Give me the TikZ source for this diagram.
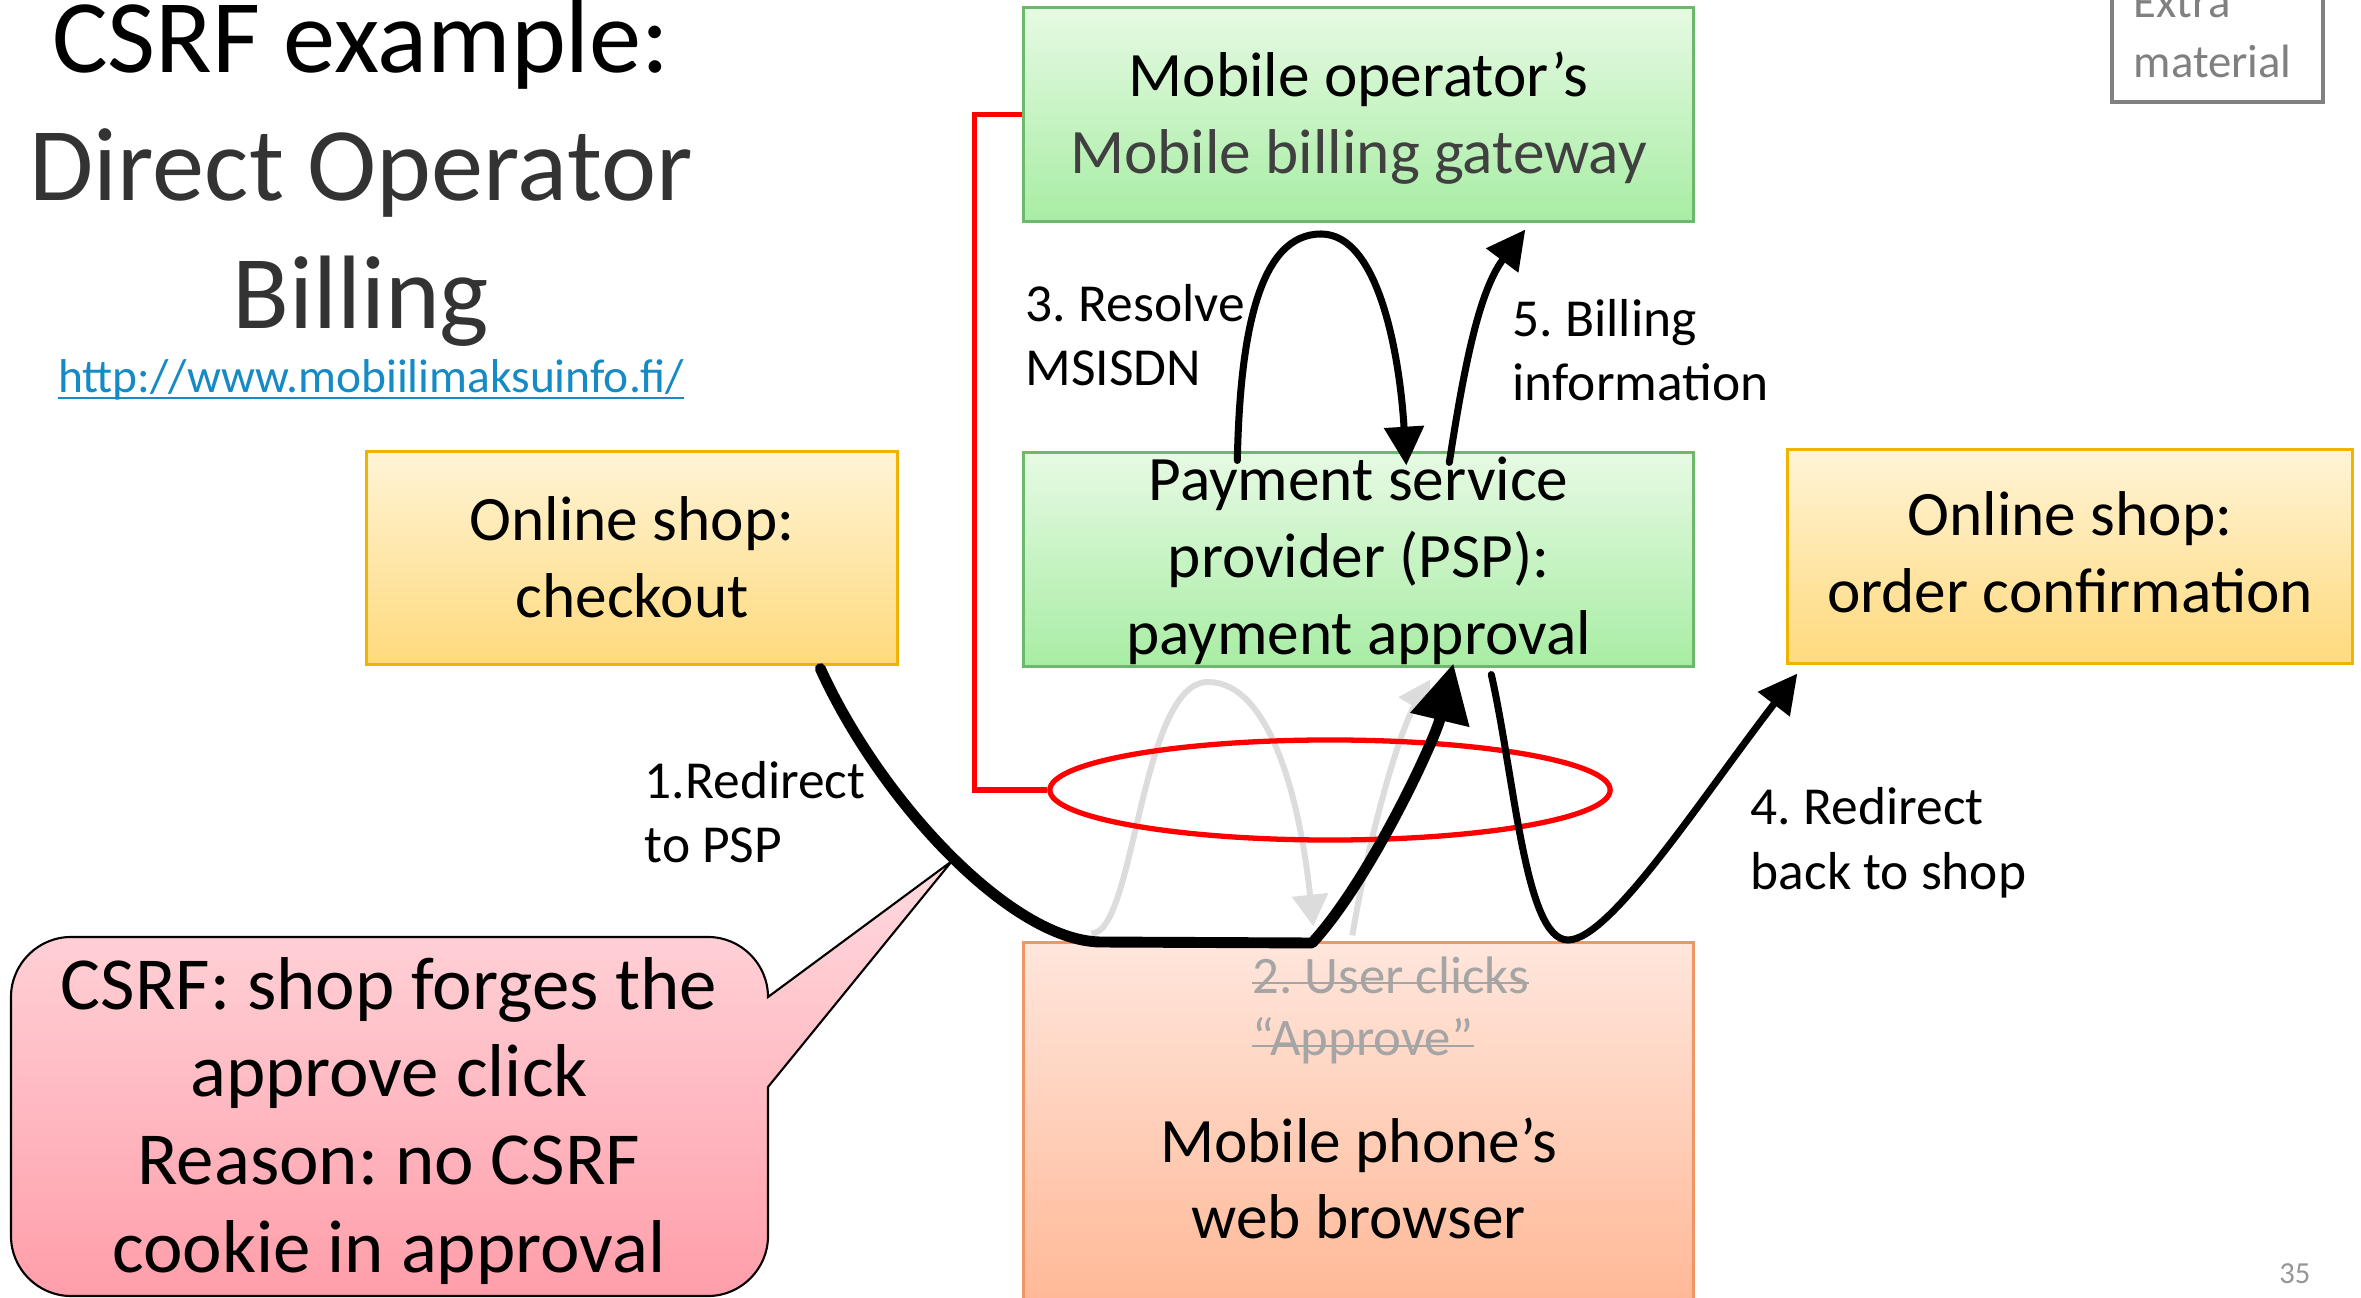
\documentclass[tikz,border=0pt]{standalone}
\usepackage{fontspec}
\setmainfont{Carlito}
\usetikzlibrary{arrows.meta,calc,shapes.geometric}
\frenchspacing
\definecolor{grA}{RGB}{230,250,227}
\definecolor{grB}{RGB}{168,237,164}
\definecolor{grE}{RGB}{108,184,108}
\definecolor{ylA}{RGB}{255,244,214}
\definecolor{ylB}{RGB}{255,218,125}
\definecolor{ylE}{RGB}{240,180,0}
\definecolor{orA}{RGB}{255,230,220}
\definecolor{orB}{RGB}{255,172,132}
\definecolor{orE}{RGB}{240,150,100}
\definecolor{pkA}{RGB}{255,218,223}
\definecolor{pkB}{RGB}{255,158,170}
\definecolor{linkc}{RGB}{22,138,196}
\definecolor{ttlgray}{RGB}{51,51,51}
\definecolor{darktxt}{RGB}{64,64,64}
\definecolor{ghost}{RGB}{220,220,220}
\definecolor{strk}{RGB}{165,165,165}
\definecolor{exgray}{RGB}{128,128,128}
\definecolor{pgray}{RGB}{150,150,150}
\newcommand{\linesc}[1]{\begin{tabular}[t]{@{}c@{}}#1\end{tabular}}
\newcommand{\linesl}[1]{\begin{tabular}[t]{@{}l@{}}#1\end{tabular}}
\begin{document}
\frenchspacing
\begin{tikzpicture}[x=0.01cm,y=-0.01cm,
  box/.style={draw, line width=0.85pt, inner sep=0pt, minimum width=66.9mm, minimum height=21.3mm},
  greenbox/.style={box, draw=grE, top color=grA, bottom color=grB},
  yellowbox/.style={box, draw=ylE, top color=ylA, bottom color=ylB},
  body/.style={font=\fontsize{18}{21.8}\selectfont, inner sep=0pt, anchor=base},
  lbl/.style={font=\fontsize{15.2}{18.2}\selectfont, inner sep=0pt, anchor=base west},
  strike/.style={font=\fontsize{15}{18}\selectfont, text=strk, inner sep=0pt, anchor=base west},
  thickarrow/.style={line width=3.1pt, line join=round, line cap=round, -{Triangle[length=16.5pt,width=16.5pt]}},
  thinarrow/.style={line width=2pt, line cap=round, -{Triangle[length=11pt,width=11pt]}},
  ghostarrow/.style={draw=ghost, line width=1.7pt, -{Triangle[length=9pt,width=10pt]}},
  redline/.style={draw=red, line width=1.55pt}
]
\clip (0,0) rectangle (2361,1298);
\useasboundingbox (0,0) rectangle (2361,1298);

% title
\node[font=\fontsize{29.7}{36.3}\selectfont, inner sep=0pt, anchor=base] (ttl) at (361,73)
  {\linesc{CSRF example:\\\color{ttlgray}Direct Operator\\\color{ttlgray}Billing}};
\node[font=\fontsize{13.5}{16}\selectfont, text=linkc, inner sep=0pt, anchor=base] (url) at (371,393)
  {http://www.mobiilimaksuinfo.fi/};
\draw[linkc, line width=0.6pt] ($(url.base west)+(0,5)$) -- ($(url.base east)+(0,5)$);

% extra material box
\node[draw=exgray, line width=1.1pt, minimum width=21.1mm, minimum height=13mm, inner sep=0pt] (extra) at (2217.5,37) {};
\node[font=\fontsize{13.3}{16.8}\selectfont, text=exgray, inner sep=0pt, anchor=base west] (ext) at (2133,18)
  {\linesl{Extra\\material}};

% boxes
\node[greenbox] (gw) at (1358.5,114.5) {};
\node[greenbox] (psp) at (1358.5,559.5) {};
\node[yellowbox, minimum width=56.4mm] (conf) at (2070,556.5) {};
\node[yellowbox, minimum width=53mm, minimum height=21.2mm] (chk) at (632,558) {};
\node[box, draw=orE, top color=orA, bottom color=orB, minimum height=45.6mm] (br) at (1358.5,1171) {};

% box texts
\node[body] (gwt) at (1358.5,97) {\linesc{Mobile operator’s\\\color{darktxt}Mobile billing gateway}};
\node[body] (pspt) at (1358.5,501) {\linesc{Payment service\\provider (PSP):\\payment approval}};
\node[body] (conft) at (2070,536) {\linesc{Online shop:\\order confirmation}};
\node[body] (chkt) at (632,541) {\linesc{Online shop:\\checkout}};
\node[body] (brt) at (1358.5,1162) {\linesc{Mobile phone’s\\web browser}};
\node[strike] (s1) at (1252,993) {2. User clicks};
\node[strike] (s2) at (1252,1055) {“Approve”};
\draw[strk, line width=0.6pt] ($(s1.base west)+(0,-10)$) -- ($(s1.base east)+(0,-10)$);
\draw[strk, line width=0.6pt] ($(s2.base west)+(0,-9)$) -- ($(s2.base east)+(0,-9)$);

% callout
\coordinate (tip) at (952,861);
\draw[black, line width=0.6pt, top color=pkA, bottom color=pkB]
  (71,937) -- (708,937) .. controls (741,937) and (768,964) .. (768,997) -- (tip) -- (768,1087)
  -- (768,1236) .. controls (768,1269) and (741,1296) .. (708,1296) -- (71,1296)
  .. controls (38,1296) and (11,1269) .. (11,1236) -- (11,997) .. controls (11,964) and (38,937) .. (71,937) -- cycle;
\node[font=\fontsize{21.3}{25}\selectfont, inner sep=0pt, anchor=base] (co) at (389,1009)
  {\linesc{CSRF: shop forges the\\approve click\\Reason: no CSRF\\cookie in approval}};

% labels
\node[lbl] (l1) at (644,798) {\linesl{1.Redirect\\to PSP}};
\node[lbl] (l3) at (1025,322) {\linesl{3. Resolve\\MSISDN}};
\node[lbl] (l5) at (1512,337) {\linesl{5. Billing\\information}};
\node[lbl] (l4) at (1750,825) {\linesl{4. Redirect\\back to shop}};

% page number
\node[font=\fontsize{8.7}{10}\selectfont, text=pgray, inner sep=0pt, anchor=base east] (pg) at (2311,1283) {35};

% ghost arrows
\draw[ghostarrow] ($(br.north west)+(69,-8)$) .. controls (1135,935) and (1140,682) .. (1208,682)
  .. controls (1270,682) and (1300,800) .. ($(br.north west)+(291,-15)$);
\draw[ghostarrow] ($(br.north west)+(330,-6)$) .. controls (1370,830) and (1400,730) .. ($(psp.south west)+(408,12)$);

% red marker
\node[draw=red, line width=1.5pt, ellipse, minimum width=56mm, minimum height=10mm, inner sep=0pt] (ell) at (1330,790) {};
\draw[redline] (gw.west) -- ++(-48,0) |- (ell.west);

% black arrows
\draw[thickarrow] ($(chk.south west)+(455,3)$) .. controls (880,800) and (1010,940) .. (1100,942) -- (1312,943)
  .. controls (1370,880) and (1435,740) .. ($(psp.south west)+(431,-4)$);
\draw[thinarrow] ($(psp.north west)+(215,9)$) .. controls (1240,330) and (1260,234) .. (1321,234)
  .. controls (1380,234) and (1400,360) .. ($(psp.north west)+(384,14)$);
\draw[thinarrow] ($(psp.north west)+(427,11)$) .. controls (1465,360) and (1480,290) .. ($(gw.south west)+(503,7)$);
\draw[thinarrow] ($(psp.south west)+(469,7)$) .. controls (1515,780) and (1525,940) .. (1568,940)
  .. controls (1610,940) and (1700,800) .. ($(conf.south west)+(11,9)$);
\end{tikzpicture}
\end{document}
